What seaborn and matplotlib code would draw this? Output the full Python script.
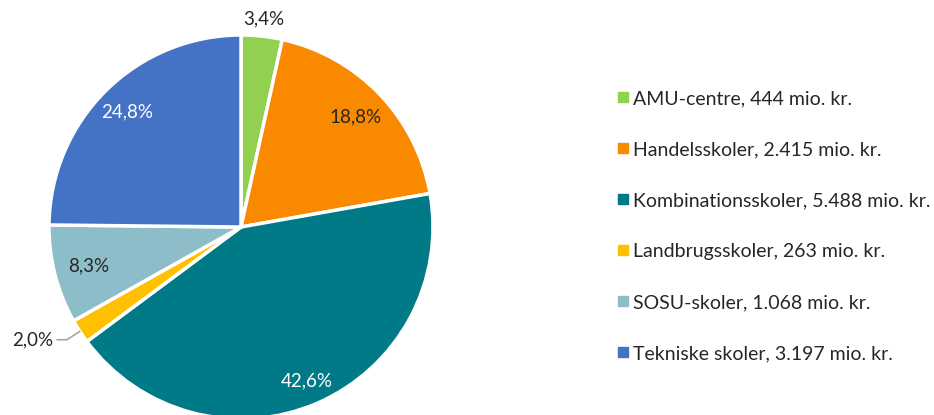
import numpy as np
import matplotlib.pyplot as plt
import seaborn as sns
from matplotlib.lines import Line2D

# data
kategorier = ["AMU-centre", "Handelsskoler", "Kombinationsskoler",
              "Landbrugsskoler", "SOSU-skoler", "Tekniske skoler"]
beloeb = [444, 2415, 5488, 263, 1068, 3197]
beloeb_tekst = ["444", "2.415", "5.488", "263", "1.068", "3.197"]
farver = ["#92D050", "#F98A00", "#007A87", "#FFC000", "#8DBDC8", "#4472C4"]
tekstfarver = ["#262626", "#262626", "white", "#262626", "#262626", "white"]

sns.set_theme(style="white")
plt.rcParams['font.family'] = ['Lato', 'DejaVu Sans']

fig = plt.figure(figsize=(9.34, 4.15), dpi=100)
R = 192
ax = fig.add_axes([(241 - 210) / 934, (188 - 210) / 415, 420 / 934, 420 / 415])

wedges, _ = ax.pie(beloeb, colors=farver, startangle=90, counterclock=False,
                   radius=R, wedgeprops=dict(edgecolor='white', linewidth=2.5))
ax.set_xlim(-210, 210)
ax.set_ylim(-210, 210)
ax.set_aspect('equal')
ax.axis('off')

total = sum(beloeb)
afstand = [1.09, 0.83, 0.87, None, 0.82, 0.84]
for i, w in enumerate(wedges):
    pct = f"{beloeb[i] / total * 100:.1f}%".replace('.', ',')
    vinkel = np.deg2rad((w.theta1 + w.theta2) / 2)
    c, s = np.cos(vinkel), np.sin(vinkel)
    if afstand[i] is None:
        # lille stykke med linje
        kant = (R * c, R * s)
        knaek = (R * 1.08 * c, R * 1.08 * s)
        slut = (knaek[0] - 10, knaek[1])
        ax.plot([kant[0], knaek[0], slut[0]], [kant[1], knaek[1], slut[1]],
                color='#A6A6A6', lw=1.2, clip_on=False)
        ax.text(slut[0] - 4, slut[1], pct, ha='right', va='center',
                fontsize=13.5, color='#262626')
    else:
        ax.text(R * afstand[i] * c, R * afstand[i] * s, pct, ha='center', va='center',
                fontsize=13.5, color=tekstfarver[i])

handles = [Line2D([0], [0], marker='s', color='none', markerfacecolor=f,
                  markeredgecolor=f, markersize=7) for f in farver]
labels = [f"{k}, {b} mio. kr." for k, b in zip(kategorier, beloeb_tekst)]
fig.legend(handles, labels, loc='center left', bbox_to_anchor=(600 / 934, 1 - 226 / 415),
           frameon=False, fontsize=14, labelspacing=1.75, handlelength=0.6,
           handletextpad=0.2, labelcolor='#262626')

plt.savefig("out.png", dpi=100)
